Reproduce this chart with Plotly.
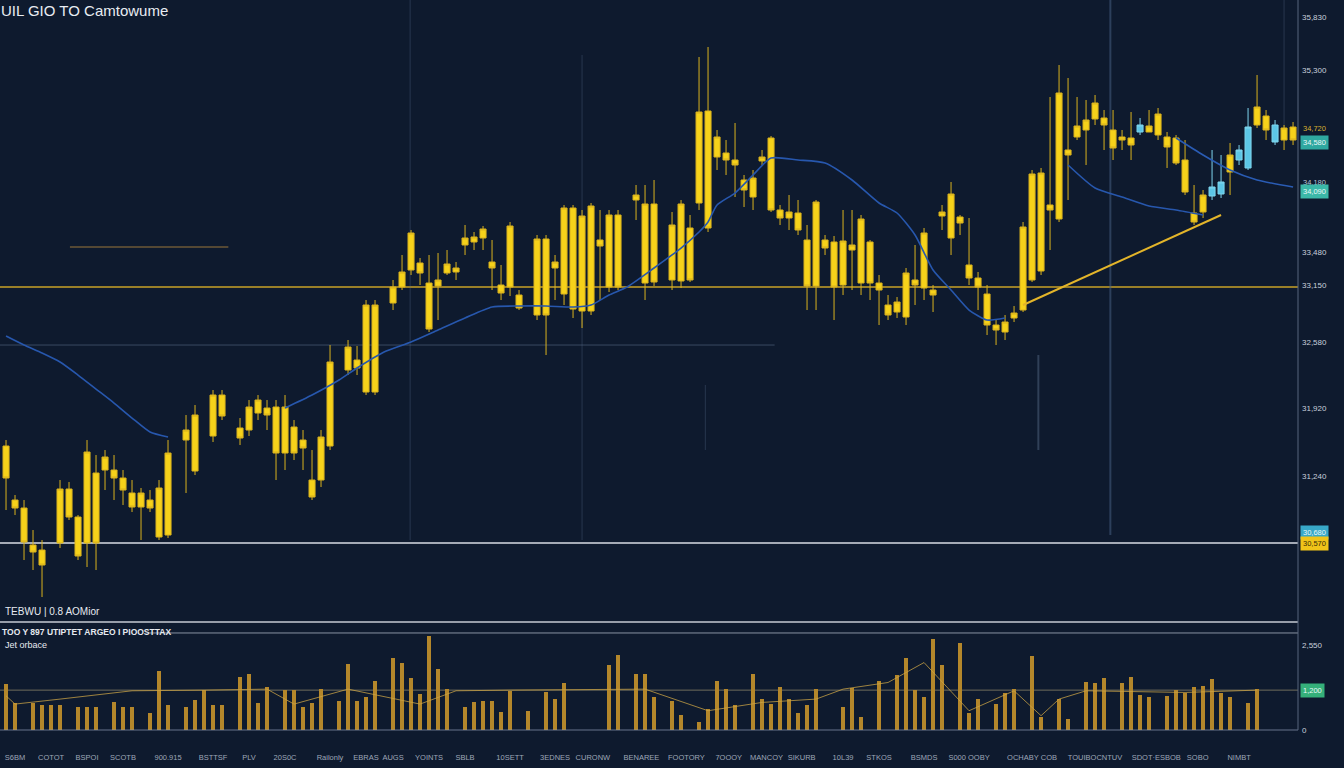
import plotly.graph_objects as go

# ---------------- data ----------------
title_text = "UIL GIO TO Camtowume"
panel_label = "TEBWU | 0.8 AOMior"
vol_header = "TOO Y 897 UTIPTET ARGEO I PIOOSTTAX"
vol_sub = "Jet orbace"

candle_slot = [0, 1, 2, 3, 4, 6, 7, 8, 9, 10, 11, 12, 13, 14, 15, 16, 17, 18, 20, 21, 23, 24, 26, 27, 28, 29,
               30, 31, 32, 33, 34, 35, 36, 38, 39, 40, 41, 43, 44, 45, 46, 47, 48, 49, 50, 51, 52, 53, 54, 55,
               56, 57, 59, 60, 61, 62, 63, 64, 65, 66, 67, 68, 70, 71, 72, 74, 75, 76, 77, 78, 79, 80, 81, 82,
               83, 84, 85, 86, 87, 88, 89, 90, 91, 92, 93, 94, 95, 96, 97, 98, 99, 100, 101, 102, 103, 104, 105,
               106, 107, 108, 109, 110, 111, 112, 113, 114, 115, 116, 117, 118, 119, 120, 121, 122, 123, 124,
               125, 127, 128, 129, 130, 131, 132, 133, 136, 139, 140, 142, 143]
candle_open = [31540, 31000, 30920, 30550, 30500, 30570, 31110, 30830, 30570, 31270, 31300, 31300, 31220, 31070,
               30930, 31000, 30630, 30650, 31600, 31290, 31640, 32050, 31720, 31700, 31870, 31920, 31930, 31470,
               31730, 31600, 31200, 31200, 31540, 32300, 32400, 32080, 32080, 32970, 33130, 33300, 33370, 33170,
               33140, 33270, 33280, 33550, 33580, 33620, 33380, 33150, 33130, 33050, 32850, 33610, 33320, 33060,
               33920, 32890, 32890, 33600, 33130, 33850, 34000, 33170, 33960, 33200, 33190, 33720, 33970, 34890,
               34430, 34470, 34400, 34200, 34030, 34390, 34620, 33900, 33820, 33870, 33600, 33140, 33600, 33580,
               33150, 33500, 33170, 33580, 33170, 32950, 32880, 32830, 33200, 33120, 33100, 33840, 33620, 33830,
               33350, 33220, 33060, 32750, 32680, 32820, 32900, 33200, 33290, 33950, 33810, 34500, 34630, 34700,
               34810, 34820, 34700, 34630, 34620, 34680, 34650, 34630, 34620, 34400, 33870, 33880, 34280, 34750,
               34840, 34600, 34730]
candle_high = [31600, 31050, 31000, 30700, 30600, 31200, 31180, 30850, 31600, 31450, 31500, 31450, 31300, 31200,
               31120, 31100, 31200, 31600, 31850, 31950, 32100, 32100, 31820, 32000, 32050, 32000, 32000, 32050,
               31800, 31700, 31500, 31700, 32550, 32600, 32540, 33000, 33000, 33200, 33450, 33700, 33420, 33450,
               33470, 33500, 33380, 33750, 33680, 33740, 33600, 33350, 33780, 33100, 33650, 33650, 33450, 33950,
               33950, 33900, 33970, 33900, 33900, 33900, 34150, 34150, 34200, 33880, 34000, 33850, 35430, 35530,
               34700, 34600, 34770, 34250, 34300, 34500, 34640, 33950, 34050, 34000, 33750, 34000, 33650, 33640,
               33900, 33900, 33850, 33600, 33250, 33050, 33030, 33320, 33550, 33720, 33150, 33950, 34180, 33850,
               33820, 33280, 33150, 32800, 32850, 32940, 33780, 34300, 34320, 35030, 35350, 35220, 35030, 35000,
               35050, 34900, 34900, 34700, 34880, 34900, 34920, 34680, 34650, 34600, 34150, 34100, 34570, 35250,
               34900, 34750, 34780]
candle_low = [30900, 30850, 30400, 30300, 30030, 30520, 30800, 30400, 30330, 30300, 31100, 31000, 30950, 30880,
              30600, 30880, 30600, 30620, 31070, 31250, 31580, 31800, 31550, 31640, 31800, 31700, 31200, 31300,
              31400, 31300, 31000, 31130, 31500, 32250, 32250, 32050, 32050, 32900, 33100, 33250, 33150, 32680,
              32800, 33250, 33200, 33450, 33500, 33500, 33100, 33000, 33040, 32900, 32800, 32450, 33000, 32950,
              32820, 32720, 32850, 33000, 33080, 33100, 33800, 33000, 33140, 33100, 33120, 33180, 33900, 33680,
              34300, 34250, 34030, 33930, 33900, 34350, 33880, 33750, 33700, 33650, 32900, 32900, 33450, 32800,
              33050, 33100, 33050, 33000, 32750, 32800, 32820, 32750, 32950, 33000, 32880, 33700, 33450, 33650,
              33150, 32900, 32650, 32550, 32600, 32780, 32880, 33180, 33250, 33500, 33780, 34000, 34600, 34350,
              34750, 34500, 34400, 34500, 34400, 34680, 34600, 34320, 34350, 34050, 33750, 33820, 34050, 34720,
              34600, 34500, 34550]
candle_close = [31220, 30920, 30580, 30480, 30350, 31110, 30830, 30440, 31480, 30570, 31430, 31220, 31100, 30930,
                31070, 30920, 31120, 31470, 31700, 31850, 32050, 31840, 31620, 31930, 32000, 31850, 31470, 31930,
                31470, 31520, 31030, 31630, 32380, 32530, 32320, 32950, 32950, 33130, 33280, 33670, 33270, 32710,
                33200, 33360, 33320, 33620, 33630, 33710, 33320, 33070, 33740, 32920, 33610, 32850, 33380, 33920,
                32910, 33840, 33940, 33540, 33850, 33130, 34050, 33960, 33180, 33750, 33960, 33200, 34880, 33720,
                34630, 34400, 34350, 34100, 34220, 34430, 33900, 33820, 33880, 33700, 33140, 33980, 33520, 33130,
                33590, 33550, 33810, 33170, 33100, 32850, 32980, 33270, 33150, 33670, 33050, 33880, 34060, 33770,
                33220, 33130, 32750, 32700, 32780, 32870, 33730, 34260, 34270, 33900, 35070, 34450, 34740, 34800,
                34970, 34750, 34520, 34600, 34550, 34740, 34860, 34530, 34370, 34080, 33780, 34050, 34450, 34930,
                34700, 34720, 34600]

# highlighted (cyan) candles
hl_slot = [126, 134, 135, 137, 138, 141]
hl_open = [34680, 34040, 34060, 34400, 34320, 34750]
hl_high = [34820, 34500, 34450, 34550, 34920, 34800]
hl_low = [34650, 34000, 34020, 34350, 34300, 34550]
hl_close = [34750, 34130, 34180, 34500, 34730, 34580]

# moving averages (None = gap)
ma_slot = [0, 2, 4, 6, 8, 10, 12, 14, 16, 18, 25, 31, 34, 37, 39, 42, 45, 48, 51, 54, 57, 60, 63, 65, 67,
           69, 72, 75, 77, 78, 79, 81, 83, 85, 88, 91, 94, 97, 99, 101, 103, 105, 107, 109, 111, 114, 118,
           121, 124, 127, 130, 133]
ma_val = [32640, 32550, 32470, 32380, 32250, 32110, 31970, 31820, 31680, 31630, None, 31920, 32050, 32200,
          32320, 32480, 32580, 32700, 32820, 32930, 32940, 32940, 32930, 32950, 33050, 33130, 33320, 33520,
          33680, 33780, 33950, 34070, 34250, 34420, 34400, 34370, 34200, 33970, 33870, 33650, 33300, 33100,
          32900, 32800, 32820, None, 34350, 34120, 34030, 33940, 33900, 33850]
ma2_slot = [130, 133, 136, 139, 143]
ma2_val = [34620, 34450, 34300, 34200, 34130]

# reference levels
level_main = 33130
level_base = 30570
level_old = 33530
level_faint = 32550
trend_slot = [113, 135]
trend_val = [32950, 33850]

# volume
vol_slot = [0, 1, 3, 4, 5, 6, 8, 9, 10, 12, 13, 14, 16, 17, 18, 20, 21, 22, 23, 24, 26, 27, 28, 29, 31, 32, 33,
            34, 35, 37, 38, 39, 40, 41, 43, 44, 45, 46, 47, 48, 49, 51, 52, 53, 54, 55, 56, 58, 60, 61, 62,
            67, 68, 70, 71, 72, 74, 75, 77, 78, 79, 80, 81, 83, 84, 85, 86, 87, 88, 89, 90, 93, 94, 95, 97,
            99, 100, 101, 102, 103, 104, 106, 107, 108, 110, 111, 112, 114, 115, 117, 118, 120, 121, 122, 124,
            125, 126, 127, 129, 130, 131, 132, 133, 134, 135, 136, 138, 139]
vol_val = [1380, 800, 800, 760, 760, 760, 700, 700, 700, 830, 700, 680, 500, 1780, 750, 700, 900, 1200, 750, 750,
           1600, 1700, 800, 1280, 1200, 1200, 700, 800, 1230, 880, 1980, 880, 1000, 1480, 2180, 2030, 1580, 1080,
           2830, 1830, 1230, 700, 830, 880, 880, 530, 1180, 580, 1130, 930, 1430, 1960, 2260, 1680, 1680, 980,
           880, 460, 230, 630, 1480, 1230, 760, 1700, 930, 780, 1300, 930, 500, 760, 1230, 680, 1260, 400, 1480,
           1660, 2160, 1200, 1000, 2730, 1960, 2630, 500, 930, 780, 1100, 1230, 2230, 400, 930, 330, 1460, 1430,
           1560, 1430, 1600, 1060, 1000, 1030, 1200, 1100, 1280, 1330, 1530, 1100, 980, 800, 1230]
vma_slot = [0, 1, 6, 14, 22, 29, 32, 38, 46, 50, 56, 71, 78, 84, 90, 93, 98, 102, 107, 112, 115, 117, 120, 131, 139]
vma_val = [1030, 780, 930, 1180, 1200, 1230, 780, 1230, 780, 1180, 1200, 1230, 580, 830, 930, 1230, 1430, 2030,
           580, 1180, 430, 930, 1180, 1130, 1200]
vol_level = 1200

# axis labels
price_ticks = [35830, 35300, 33480, 33150, 32580, 31920, 31240]
vol_ticks = [0, 2550]
vol_tick_text = ["0", "2,550"]
time_ticks = [1, 5, 9, 13, 18, 23, 27, 31, 36, 40, 43, 47, 51, 56, 61, 65.2, 70.6, 75.6, 80.3, 84.5, 88.4, 93,
              97, 102, 107, 114, 121, 127.8, 132.4, 137]
time_labels = ["S6BM", "COTOT", "BSPOI", "SCOTB", "900.915", "BSTTSF", "PLV", "20S0C", "Railonly", "EBRAS",
               "AUGS", "YOINTS", "SBLB", "10SETT", "3EDNES", "CURONW", "BENAREE", "FOOTORY", "7OOOY", "MANCOY",
               "SIKURB", "10L39", "STKOS", "BSMDS", "S000 OOBY", "OCHABY COB", "TOUIBOCNTUV", "SDOT·ESBOB",
               "SOBO", "NIMBT"]
tag_price = [34720, 34580, 34180, 34090, 30680, 30570]

# ---------------- figure ----------------
BG = "#0e1a2e"
YEL = "#f6d21a"
YEL_LINE = "#d9b21e"
X0, X1 = -0.67, 143.55
PRICE_RANGE = [29780, 36000]
VOL_RANGE = [0, 2920]
MAIN_DOM = [0.1479, 1.0]
VOL_DOM = [0.0, 0.1329]
TXT_FONT = "Liberation Sans"

fig = go.Figure()

fig.add_trace(go.Candlestick(
    x=candle_slot, open=candle_open, high=candle_high, low=candle_low, close=candle_close,
    increasing=dict(line=dict(color=YEL_LINE, width=1), fillcolor=YEL),
    decreasing=dict(line=dict(color=YEL_LINE, width=1), fillcolor=YEL),
    whiskerwidth=0, showlegend=False, hoverinfo="skip", xaxis="x", yaxis="y"))

fig.add_trace(go.Candlestick(
    x=hl_slot, open=hl_open, high=hl_high, low=hl_low, close=hl_close,
    increasing=dict(line=dict(color="#7fd6ee", width=1), fillcolor="#5cc6e6"),
    decreasing=dict(line=dict(color="#7fd6ee", width=1), fillcolor="#5cc6e6"),
    whiskerwidth=0, showlegend=False, hoverinfo="skip", xaxis="x", yaxis="y"))

fig.add_trace(go.Scatter(x=ma_slot, y=ma_val, mode="lines", connectgaps=False,
                         line=dict(color="#2757ad", width=1.6, shape="spline", smoothing=0.6),
                         showlegend=False, hoverinfo="skip", xaxis="x", yaxis="y"))
fig.add_trace(go.Scatter(x=ma2_slot, y=ma2_val, mode="lines",
                         line=dict(color="#2a5cb4", width=1.6, shape="spline", smoothing=0.6),
                         showlegend=False, hoverinfo="skip", xaxis="x", yaxis="y"))
fig.add_trace(go.Scatter(x=trend_slot, y=trend_val, mode="lines",
                         line=dict(color="#e3b52a", width=2),
                         showlegend=False, hoverinfo="skip", xaxis="x", yaxis="y"))

fig.add_trace(go.Bar(x=vol_slot, y=vol_val, width=0.42, marker=dict(color="#b4872b", line=dict(width=0)),
                     showlegend=False, hoverinfo="skip", xaxis="x2", yaxis="y2"))
fig.add_trace(go.Scatter(x=vma_slot, y=vma_val, mode="lines",
                         line=dict(color="rgba(205,165,70,0.75)", width=1),
                         showlegend=False, hoverinfo="skip", xaxis="x2", yaxis="y2"))

shapes = [
    dict(type="line", xref="x", yref="y", x0=X0, x1=X1, y0=level_main, y1=level_main,
         line=dict(color="#c9a227", width=1.5), layer="below"),
    dict(type="line", xref="x", yref="y", x0=X0, x1=X1, y0=level_base, y1=level_base,
         line=dict(color="#d9dde5", width=1.5), layer="below"),
    dict(type="line", xref="x", yref="y", x0=7.1, x1=24.7, y0=level_old, y1=level_old,
         line=dict(color="rgba(150,115,60,0.7)", width=1.5), layer="below"),
    dict(type="line", xref="x", yref="y", x0=X0, x1=85.4, y0=level_faint, y1=level_faint,
         line=dict(color="rgba(140,160,195,0.35)", width=1), layer="below"),
    # faint vertical grid lines
    dict(type="line", xref="x", yref="y", x0=44.9, x1=44.9, y0=30600, y1=36000,
         line=dict(color="rgba(90,110,140,0.35)", width=1), layer="below"),
    dict(type="line", xref="x", yref="y", x0=64, x1=64, y0=30600, y1=35450,
         line=dict(color="rgba(90,110,140,0.35)", width=1), layer="below"),
    dict(type="line", xref="x", yref="y", x0=122.7, x1=122.7, y0=30650, y1=36000,
         line=dict(color="rgba(70,95,130,0.55)", width=2), layer="below"),
    dict(type="line", xref="x", yref="y", x0=77.7, x1=77.7, y0=31500, y1=32150,
         line=dict(color="rgba(90,110,140,0.35)", width=1), layer="below"),
    dict(type="line", xref="x", yref="y", x0=114.7, x1=114.7, y0=31500, y1=32450,
         line=dict(color="rgba(90,110,140,0.45)", width=2), layer="below"),
    dict(type="line", xref="x", yref="y", x0=142.0, x1=142.0, y0=34700, y1=36000,
         line=dict(color="rgba(90,110,140,0.35)", width=1), layer="below"),
    # panel separators
    dict(type="line", xref="paper", yref="paper", x0=0, x1=1, y0=MAIN_DOM[0], y1=MAIN_DOM[0],
         line=dict(color="#c6cbd5", width=1.5)),
    dict(type="line", xref="paper", yref="paper", x0=0.112, x1=1, y0=VOL_DOM[1], y1=VOL_DOM[1],
         line=dict(color="rgba(190,198,212,0.7)", width=1)),
    dict(type="line", xref="paper", yref="paper", x0=0, x1=1, y0=0, y1=0,
         line=dict(color="rgba(140,155,180,0.7)", width=1)),
    dict(type="line", xref="x2", yref="y2", x0=X0, x1=X1, y0=vol_level, y1=vol_level,
         line=dict(color="rgba(190,175,130,0.55)", width=1), layer="below"),
    dict(type="line", xref="paper", yref="paper", x0=1, x1=1, y0=0, y1=1,
         line=dict(color="#56657c", width=1)),
]

def ypaper(px):
    return 1 - px / 730.0

def tag(text, yref, yval, bg=None, color="#e8f8f8"):
    d = dict(text=text, xref="paper", yref=yref, x=1.0015, y=yval, xanchor="left", yanchor="middle",
             showarrow=False, borderpad=2, font=dict(size=7.5, color=color, family=TXT_FONT))
    if bg:
        d["bgcolor"] = bg
    return d

annotations = [
    dict(text=title_text, xref="paper", yref="paper", x=-0.001, y=ypaper(10), xanchor="left", yanchor="middle",
         showarrow=False, font=dict(size=15, color="#e8ecf2", family=TXT_FONT)),
    dict(text=panel_label, xref="paper", yref="paper", x=0.002, y=ypaper(611), xanchor="left", yanchor="middle",
         showarrow=False, font=dict(size=10, color="#e6eaf0", family=TXT_FONT)),
    dict(text="<b>" + vol_header + "</b>", xref="paper", yref="paper", x=0.0, y=ypaper(632), xanchor="left",
         yanchor="middle", showarrow=False, font=dict(size=8.5, color="#e6eaf0", family=TXT_FONT)),
    dict(text=vol_sub, xref="paper", yref="paper", x=0.002, y=ypaper(645), xanchor="left", yanchor="middle",
         showarrow=False, font=dict(size=9, color="#e6eaf0", family=TXT_FONT)),
    tag(f"{tag_price[0]:,}", "y", tag_price[0], None, "#d8b030"),
    tag(f"{tag_price[1]:,}", "y", tag_price[1], "#2fa8a0"),
    tag(f"{tag_price[2]:,}", "y", tag_price[2], None, "#b8c8d8"),
    tag(f"{tag_price[3]:,}", "y", tag_price[3], "#3bb8a8"),
    tag(f"{tag_price[4]:,}", "y", tag_price[4], "#38a8c8"),
    tag(f"{tag_price[5]:,}", "y", tag_price[5], "#f0c419", "#3a2e08"),
    tag(f"{vol_level:,}", "y2", vol_level, "#35b07a"),
]

fig.update_layout(
    width=1344, height=768,
    margin=dict(l=0, r=46, t=0, b=38),
    paper_bgcolor=BG, plot_bgcolor=BG,
    showlegend=False,
    boxgap=0.04,
    bargap=0,
    shapes=shapes,
    annotations=annotations,
    xaxis=dict(domain=[0, 1], range=[X0, X1], anchor="y", showticklabels=False, showgrid=False,
               zeroline=False, showline=False, rangeslider=dict(visible=False), fixedrange=True),
    xaxis2=dict(domain=[0, 1], range=[X0, X1], anchor="y2", matches="x", showgrid=False, zeroline=False,
                showline=False, tickmode="array", tickvals=time_ticks, ticktext=time_labels, ticks="",
                ticklabelstandoff=21, tickangle=0,
                tickfont=dict(size=7.5, color="#9ea7b8", family=TXT_FONT)),
    yaxis=dict(domain=MAIN_DOM, range=PRICE_RANGE, side="right", anchor="x", showgrid=False, zeroline=False,
               showline=False, tickmode="array", tickvals=price_ticks,
               ticktext=[f"{v:,}" for v in price_ticks], ticks="", ticklabelstandoff=3,
               tickfont=dict(size=8, color="#c8d0dc", family=TXT_FONT)),
    yaxis2=dict(domain=VOL_DOM, range=VOL_RANGE, side="right", anchor="x2", showgrid=False, zeroline=False,
                showline=False, tickmode="array", tickvals=vol_ticks, ticktext=vol_tick_text, ticks="",
                ticklabelstandoff=3,
                tickfont=dict(size=8, color="#c8d0dc", family=TXT_FONT)),
)

fig.write_html("out.html", config={"displayModeBar": False},
               post_script="document.body.style.margin='0px';document.body.style.overflow='hidden';")
